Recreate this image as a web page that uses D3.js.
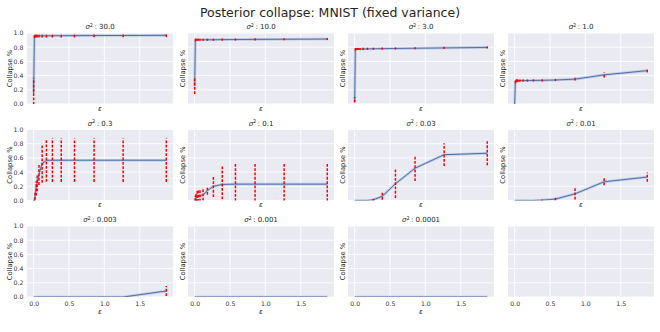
<!DOCTYPE html>
<html>
<head>
<meta charset="utf-8">
<style>
  body { margin: 0; background: #fff; font-family: "DejaVu Sans", sans-serif; }
  .tick text { fill: #333; font-size: 6.2px; font-family: "DejaVu Sans", sans-serif; }
  .ylab, .xlab, .ptitle { fill: #262626; }
</style>
</head>
<body>
<svg width="660" height="332"></svg>
<script src="https://cdnjs.cloudflare.com/ajax/libs/d3/7.8.5/d3.min.js"></script>
<script>
// epsilon values (shared x)
var eps = [0, 0.01, 0.02, 0.035, 0.05, 0.075, 0.12, 0.18, 0.265, 0.39, 0.577, 0.854, 1.265, 1.875];

var sigmaLabels = ["30.0", "10.0", "3.0", "1.0", "0.3", "0.1", "0.03", "0.01", "0.003", "0.001", "0.0001"];

// mean collapse per sigma^2
var mean30  = [0.15, 0.955, 0.96, 0.96, 0.96, 0.96, 0.96, 0.96, 0.962, 0.962, 0.963, 0.964, 0.965, 0.967];
var mean10  = [0.25, 0.9, 0.905, 0.905, 0.905, 0.905, 0.905, 0.905, 0.905, 0.907, 0.908, 0.91, 0.912, 0.915];
var mean3   = [0.03, 0.77, 0.775, 0.775, 0.775, 0.775, 0.776, 0.777, 0.778, 0.78, 0.782, 0.785, 0.79, 0.797];
var mean1   = [0, 0.31, 0.325, 0.328, 0.328, 0.33, 0.33, 0.33, 0.332, 0.333, 0.338, 0.35, 0.41, 0.47];
var mean03  = [0, 0, 0.06, 0.17, 0.25, 0.37, 0.52, 0.565, 0.567, 0.567, 0.567, 0.567, 0.567, 0.567];
var mean01  = [0, 0.03, 0.05, 0.055, 0.06, 0.065, 0.08, 0.14, 0.2, 0.226, 0.23, 0.23, 0.23, 0.23];
var mean003 = [0, 0, 0, 0, 0, 0, 0, 0, 0.01, 0.06, 0.236, 0.455, 0.645, 0.665];
var mean001 = [0, 0, 0, 0, 0, 0, 0, 0, 0, 0.005, 0.02, 0.094, 0.264, 0.33];
var mean0003 = [0, 0, 0, 0, 0, 0, 0, 0, 0, 0, 0, 0, 0, 0.085];
var mean0001 = [0, 0, 0, 0, 0, 0, 0, 0, 0, 0, 0, 0, 0, 0];
var mean00001 = [0, 0, 0, 0, 0, 0, 0, 0, 0, 0, 0, 0, 0, 0];

// std (error bar half length) per sigma^2
var err30  = [0.22, 0.025, 0.025, 0.025, 0.025, 0.025, 0.025, 0.025, 0.025, 0.025, 0.025, 0.025, 0.025, 0.025];
var err10  = [0.11, 0.02, 0.015, 0.015, 0.015, 0.015, 0.015, 0.015, 0.015, 0.015, 0.015, 0.015, 0.015, 0.015];
var err3   = [0.07, 0.02, 0.015, 0.015, 0.015, 0.015, 0.015, 0.015, 0.015, 0.015, 0.015, 0.015, 0.015, 0.015];
var err1   = [0, 0.02, 0.02, 0.02, 0.015, 0.015, 0.015, 0.015, 0.015, 0.015, 0.015, 0.02, 0.035, 0.025];
var err03  = [0, 0.01, 0.05, 0.1, 0.12, 0.15, 0.27, 0.3, 0.305, 0.305, 0.305, 0.305, 0.305, 0.305];
var err01  = [0, 0.04, 0.06, 0.08, 0.08, 0.08, 0.08, 0.06, 0.15, 0.27, 0.3, 0.3, 0.3, 0.3];
var err003 = [0, 0, 0, 0, 0, 0, 0, 0, 0.015, 0.05, 0.2, 0.18, 0.16, 0.17];
var err001 = [0, 0, 0, 0, 0, 0, 0, 0, 0, 0.008, 0.02, 0.08, 0.05, 0.066];
var err0003 = [0, 0, 0, 0, 0, 0, 0, 0, 0, 0, 0, 0, 0, 0.07];
var err0001 = [0, 0, 0, 0, 0, 0, 0, 0, 0, 0, 0, 0, 0, 0];
var err00001 = [0, 0, 0, 0, 0, 0, 0, 0, 0, 0, 0, 0, 0, 0];

var xTicks = [0, 0.5, 1.0, 1.5];
var yTicks = [0, 0.2, 0.4, 0.6, 0.8, 1.0];

var means = [mean30, mean10, mean3, mean1, mean03, mean01, mean003, mean001, mean0003, mean0001, mean00001];
var errs = [err30, err10, err3, err1, err03, err01, err003, err001, err0003, err0001, err00001];

var svg = d3.select("svg");
var colLeft = [27, 188, 348, 508];
var rowTop = [33, 129.5, 226];
var axW = 146, axH = 71;

var x = d3.scaleLinear().domain([-0.094, 1.97]).range([0, axW]);
var y = d3.scaleLinear().domain([0, 1]).range([axH, 0]);

svg.append("text")
    .attr("x", 330).attr("y", 16.5)
    .attr("text-anchor", "middle")
    .style("font-size", "12.5px")
    .style("fill", "#262626")
    .text("Posterior collapse: MNIST (fixed variance)");

var line = d3.line().x(d => x(d.e)).y(d => y(d.m));

for (var i = 0; i < 12; i++) {
    var r = Math.floor(i / 4), c = i % 4;
    var g = svg.append("g").attr("transform", "translate(" + colLeft[c] + "," + rowTop[r] + ")");

    g.append("rect").attr("width", axW).attr("height", axH).style("fill", "#EAEAF2");

    // grid
    g.selectAll(".gx").data(xTicks).enter().append("line")
        .attr("x1", d => x(d)).attr("x2", d => x(d))
        .attr("y1", 0).attr("y2", axH)
        .style("stroke", "#fff").style("stroke-width", 0.9);
    g.selectAll(".gy").data(yTicks).enter().append("line")
        .attr("x1", 0).attr("x2", axW)
        .attr("y1", d => y(d)).attr("y2", d => y(d))
        .style("stroke", "#fff").style("stroke-width", 0.9);

    // axes labels / ticks
    var xa = g.append("g").attr("transform", "translate(0," + axH + ")")
        .call(d3.axisBottom(x).tickValues(xTicks).tickSize(0).tickPadding(4.2)
            .tickFormat(r == 2 ? d3.format(".1f") : ""));
    xa.select(".domain").remove();
    if (c == 0) {
        var ya = g.append("g")
            .call(d3.axisLeft(y).tickValues(yTicks).tickSize(0).tickPadding(3.6).tickFormat(d3.format(".1f")));
        ya.select(".domain").remove();
    }

    if (i >= sigmaLabels.length) continue;

    g.append("text").attr("class", "xlab")
        .attr("x", axW / 2).attr("y", axH + (r == 2 ? 16.5 : 6.8))
        .attr("text-anchor", "middle")
        .style("font-size", "7px").style("font-style", "italic")
        .text("ε");

    g.append("text").attr("class", "ylab")
        .attr("transform", "translate(" + (c == 0 ? -15.5 : -3.5) + "," + (axH / 2) + ") rotate(-90)")
        .attr("text-anchor", "middle")
        .style("font-size", "6.8px")
        .text("Collapse %");

    var t = g.append("text").attr("class", "ptitle")
        .attr("x", axW / 2).attr("y", -3.8)
        .attr("text-anchor", "middle")
        .style("font-size", "7px");
    t.append("tspan").style("font-style", "italic").text("σ");
    t.append("tspan").attr("dy", -2.6).style("font-size", "5px").text("2");
    t.append("tspan").attr("dy", 2.6).text("\u2009: " + sigmaLabels[i]);

    var pts = eps.map((e, k) => ({ e: e, m: means[i][k], s: errs[i][k] }));

    g.append("clipPath").attr("id", "clip" + i)
        .append("rect").attr("width", axW).attr("height", axH);
    var pg = g.append("g").attr("clip-path", "url(#clip" + i + ")");

    pg.append("path").datum(pts).attr("d", line)
        .style("fill", "none").style("stroke", "#4C72B0").style("stroke-opacity", 0.28)
        .style("stroke-width", 2.6).style("stroke-linejoin", "round");
    pg.append("path").datum(pts).attr("d", line)
        .style("fill", "none").style("stroke", "#4C72B0")
        .style("stroke-width", 1).style("stroke-linejoin", "round");

    pg.selectAll(".eb").data(pts.filter(d => d.s > 0)).enter().append("line")
        .attr("x1", d => x(d.e)).attr("x2", d => x(d.e))
        .attr("y1", d => y(d.m - d.s)).attr("y2", d => y(d.m + d.s))
        .style("stroke", "#FF0000").style("stroke-width", 1.5)
        .style("stroke-dasharray", "2.8,1.5");
}
</script>
</body>
</html>
